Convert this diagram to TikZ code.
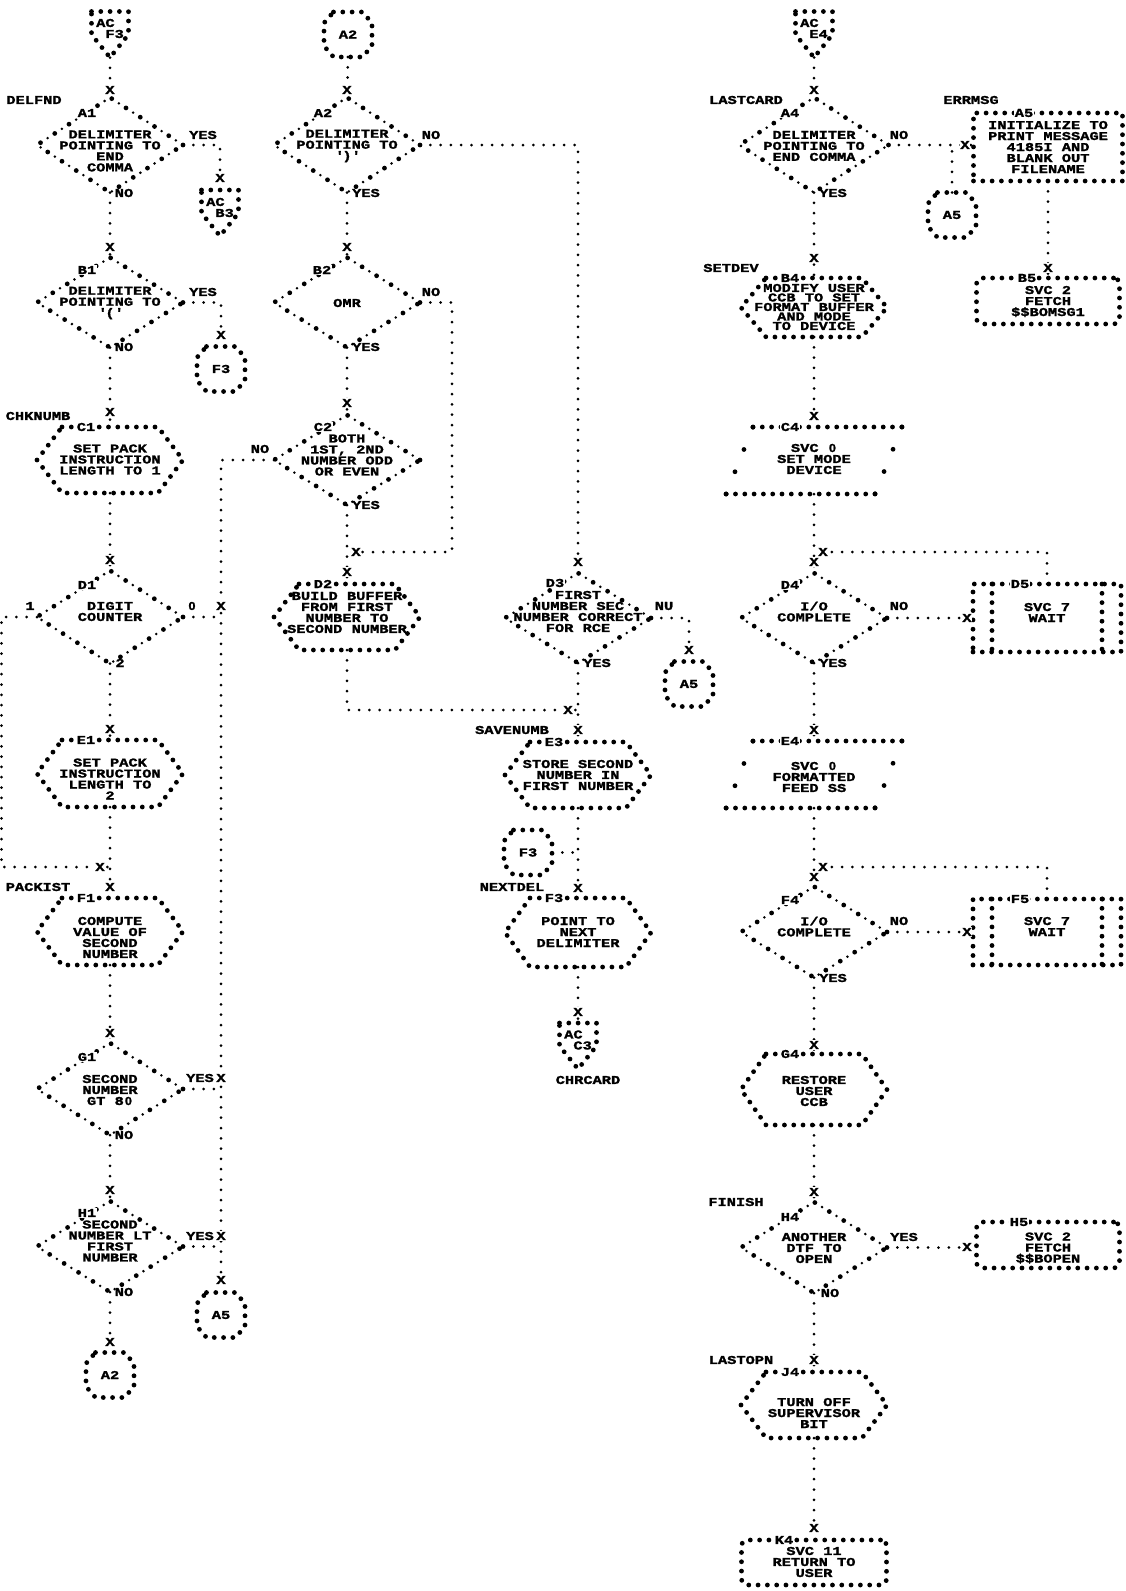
\documentclass[tikz,border=0pt]{standalone}
\usepackage{fontspec}
\newfontfamily\prt[FakeStretch=1.28, BoldFeatures={FakeBold=1.6}]{Liberation Mono}
\newfontfamily\zsans[FakeStretch=1.1, BoldFeatures={FakeBold=1.6}]{Liberation Sans}
\newcommand\Z{\makebox[0.768em]{\zsans\bfseries\fontsize{11.5pt}{11pt}\selectfont 0}}
\usetikzlibrary{shapes.geometric}
\newcommand\hexnode[4]{%
  \node[rectangle, minimum width=146pt, minimum height=#4pt] (#1) at (#2,#3) {};
  \draw[stars] ([xshift=25pt]#1.north west) -- ([xshift=-25pt]#1.north east) -- (#1.east)
    -- ([xshift=-25pt]#1.south east) -- ([xshift=25pt]#1.south west) -- (#1.west) -- cycle;}
\newcommand\ionode[4]{%
  \node[rectangle, minimum width=176pt, minimum height=#4pt] (#1) at (#2,#3) {};
  \draw[stars] ([xshift=27pt]#1.north west) -- (#1.north east);
  \draw[stars] ([xshift=-27pt]#1.south east) -- (#1.south west);
  \draw[sparse] (#1.north east) -- ([xshift=-27pt]#1.south east);
  \draw[sparse] (#1.south west) -- ([xshift=27pt]#1.north west);}
\newcommand\offnode[3]{%
  \node[rectangle, minimum width=37pt, minimum height=46pt] (#1) at (#2,#3) {};
  \draw[stars] (#1.north west) -- (#1.north east) -- (#1.east) -- (#1.south) -- (#1.west) -- cycle;}
\newcommand\onnode[3]{%
  \node[rectangle, minimum width=48pt, minimum height=45pt] (#1) at (#2,#3) {};
  \draw[stars] ([xshift=9.5pt]#1.north west) -- ([xshift=-9.5pt]#1.north east)
    -- ([yshift=-11pt]#1.north east) -- ([yshift=11pt]#1.south east)
    -- ([xshift=-9.5pt]#1.south east) -- ([xshift=9.5pt]#1.south west)
    -- ([yshift=11pt]#1.south west) -- ([yshift=-11pt]#1.north west) -- cycle;}
\newcommand\prednode[5]{%
  \node[box, minimum width=#4pt, minimum height=#5pt] (#1) at (#2,#3) {};
  \draw[stars] ([xshift=19pt]#1.north west) -- ([xshift=19pt]#1.south west);
  \draw[stars] ([xshift=-19pt]#1.north east) -- ([xshift=-19pt]#1.south east);}
\begin{document}
\begin{tikzpicture}[x=1pt,y=-1pt,
 every node/.style={inner sep=0pt, outer sep=0pt},
 txt/.style={font=\prt\bfseries\fontsize{12pt}{11pt}\selectfont, align=center},
 xm/.style={txt, fill=white, inner sep=0.6pt},
 idl/.style={txt, fill=white, inner sep=0.8pt},
 stars/.style={line width=4.8pt, line cap=round, dash pattern=on 0pt off 9.3pt},
 sparse/.style={line width=4.8pt, line cap=round, dash pattern=on 0pt off 24pt},
 box/.style={rectangle, draw, stars},
 rbox/.style={box, rounded corners=6pt},
 dec/.style={diamond, draw, line width=4.8pt, line cap=round, dash pattern=on 0pt off 17pt,
   postaction={draw, line width=2.8pt, dash pattern=on 0pt off 17pt, dash phase=8.5pt},
   minimum width=146pt, minimum height=92pt},
 conn/.style={draw, line width=3pt, line cap=round, dash pattern=on 0pt off 10.3pt}]
\fill[white] (0,0) rectangle (1126,1591);
\useasboundingbox (0,0) rectangle (1126,1591);

% ---------- column 1
\offnode{acf3}{110}{34.5}
\node[dec, minimum height=95pt] (a1) at (110,145) {};
\node[dec, minimum height=90pt] (b1) at (110,302.5) {};
\offnode{acb3}{220}{213}
\onnode{f3c}{221}{369}
\hexnode{c1}{110}{460}{66}
\node[dec, minimum height=93pt] (d1) at (110,617) {};
\hexnode{e1}{110}{773.5}{67}
\hexnode{f1}{110}{931.5}{67}
\node[dec] (g1) at (110,1089) {};
\node[dec, minimum height=91pt] (h1) at (110,1246.5) {};
\onnode{a5c}{221}{1315}
\onnode{a2c}{110}{1375}
% ---------- column 2
\onnode{a2top}{348}{34.5}
\node[dec, minimum height=95pt] (a2) at (347,145) {};
\node[dec, minimum height=90pt] (b2) at (347,302.5) {};
\node[dec, minimum height=90pt] (c2) at (347,460) {};
\hexnode{d2}{347}{617}{66}
% ---------- column 3
\node[dec, minimum height=90pt] (d3) at (578,618) {};
\onnode{a5c3}{689}{684}
\hexnode{e3}{578}{775}{66}
\onnode{f3c2}{528}{852.5}
\hexnode{f3}{578}{932.5}{69}
\offnode{acc3}{578}{1046}
% ---------- column 4 / 5
\offnode{ace4}{814}{34.5}
\node[dec, minimum height=95pt, minimum width=149pt] (a4) at (814,145) {};
\node[box, minimum width=149pt, minimum height=68pt] (a5) at (1048,147) {};
\onnode{a5c4}{952}{215}
\node[rbox, minimum width=143pt, minimum height=46pt] (b5) at (1048,301) {};
\hexnode{b4}{814}{307.5}{59}
\ionode{c4}{814}{460.5}{67}
\node[dec, minimum height=90pt] (d4) at (814,618) {};
\prednode{d5}{1047}{618}{148}{68}
\ionode{e4}{814}{774.5}{67}
\node[dec, minimum height=91pt] (f4) at (814,932) {};
\prednode{f5}{1047}{932}{148}{66}
\hexnode{g4}{814}{1089.5}{71}
\node[dec, minimum height=91pt] (h4) at (814,1247.5) {};
\node[rbox, minimum width=143pt, minimum height=46pt] (h5) at (1048,1245) {};
\hexnode{j4}{814}{1405}{66}
\node[rbox, minimum width=145pt, minimum height=45pt] (k4) at (814,1562.5) {};

% ---------- junction points
\coordinate (jl) at (1.5,867);
\coordinate (jf1) at (110,867);
\coordinate (jb2r) at (452,552);
\coordinate (jb2) at (347,552);
\coordinate (jd3) at (578,710);
\coordinate (jd4) at (814,552);
\coordinate (jf4) at (814,867);

% ---------- connectors
\draw[conn] (acf3) -- (a1);
\draw[conn] (a1) -- (b1);
\draw[conn] (a1.east) -| (acb3);
\draw[conn] (b1) -- (c1);
\draw[conn] (b1.east) -| (f3c);
\draw[conn] (c1) -- (d1);
\draw[conn] (d1) -- (e1);
\draw[conn] (d1.west) -| (jl) -- (jf1);
\draw[conn] (d1.east) -- (d1.east -| a5c);
\draw[conn] (e1) -- (f1);
\draw[conn] (f1) -- (g1);
\draw[conn] (g1) -- (h1);
\draw[conn] (g1.east) -- (g1.east -| a5c);
\draw[conn] (h1.east) -- (h1.east -| a5c);
\draw[conn] (h1) -- (a2c);
\draw[conn] (a2top) -- (a2);
\draw[conn] (a2) -- (b2);
\draw[conn] (a2.east) -| (d3);
\draw[conn] (b2) -- (c2);
\draw[conn] (b2.east) -| (jb2r) -- (jb2);
\draw[conn] (c2) -- (d2);
\draw[conn] (c2.west) -| (a5c);
\draw[conn] (d2) |- (jd3);
\draw[conn] (d3) -- (e3);
\draw[conn] (d3.east) -| (a5c3);
\draw[conn] (e3) -- (f3);
\draw[conn] (f3c2.east) -- (f3c2.east -| f3);
\draw[conn] (f3) -- (acc3);
\draw[conn] (ace4) -- (a4);
\draw[conn] (a4.east) -- (a4.east -| a5.west);
\draw[conn] (a5c4) -- (a5c4 |- a4.east);
\draw[conn] (a5) -- (b5);
\draw[conn] (a4) -- (b4);
\draw[conn] (b4) -- (c4);
\draw[conn] (c4) -- (d4);
\draw[conn] (d4.east) -- (d4.east -| d5.west);
\draw[conn] (d5) |- (jd4);
\draw[conn] (d4) -- (e4);
\draw[conn] (e4) -- (f4);
\draw[conn] (f4.east) -- (f4.east -| f5.west);
\draw[conn] (f5) |- (jf4);
\draw[conn] (f4) -- (g4);
\draw[conn] (g4) -- (h4);
\draw[conn] (h4.east) -- (h4.east -| h5.west);
\draw[conn] (h4) -- (j4);
\draw[conn] (j4) -- (k4);

% ---------- texts column 1
\node[txt] (acf3t) at (110,28.5) {AC\phantom{0}\\\phantom{0}F3};
\node[txt] (lbdelfnd) at (34,100) {DELFND};
\node[txt] (a1t) at (110,151) {DELIMITER\\POINTING TO\\END\\COMMA};
\node[txt] (a1y) at (203,135) {YES};
\node[txt] (a1n) at (124,193) {NO};
\node[txt] (acb3t) at (220,207.5) {AC\phantom{0}\\\phantom{0}B3};
\node[txt] (b1t) at (110,303) {DELIMITER\\POINTING TO\\\textquotesingle(\textquotesingle};
\node[txt] (b1y) at (203,292) {YES};
\node[txt] (b1n) at (124,347) {NO};
\node[txt] (f3ct) at (221,369) {F3};
\node[txt] (lbchk) at (38,416) {CHKNUMB};
\node[txt] (c1t) at (110,459.5) {SET PACK\\INSTRUCTION\\LENGTH TO 1};
\node[txt] (d1t) at (110,611.5) {DIGIT\\COUNTER};
\node[txt] (d1a) at (30,606) {1};
\node[txt] (d1b) at (192,606) {\Z};
\node[txt] (d1c) at (120,663) {2};
\node[txt] (e1t) at (110,779) {SET PACK\\INSTRUCTION\\LENGTH TO\\2};
\node[txt] (lbpack) at (38,887) {PACKIST};
\node[txt] (f1t) at (110,937.5) {COMPUTE\\VALUE OF\\SECOND\\NUMBER};
\node[txt] (g1t) at (110,1090) {SECOND\\NUMBER\\GT 8\Z};
\node[txt] (g1y) at (200,1078) {YES};
\node[txt] (g1n) at (124,1135) {NO};
\node[txt] (h1t) at (110,1241) {SECOND\\NUMBER LT\\FIRST\\NUMBER};
\node[txt] (h1y) at (200,1236) {YES};
\node[txt] (h1n) at (124,1292) {NO};
\node[txt] (a5ct) at (221,1315) {A5};
\node[txt] (a2ct) at (110,1375) {A2};
% ---------- texts column 2
\node[txt] (a2topt) at (348,34.5) {A2};
\node[txt] (a2t) at (347,146) {DELIMITER\\POINTING TO\\\textquotesingle)\textquotesingle};
\node[txt] (a2n) at (431,135) {NO};
\node[txt] (a2y) at (366,193) {YES};
\node[txt] (b2t) at (347,303) {OMR};
\node[txt] (b2n) at (431,292) {NO};
\node[txt] (b2y) at (366,347) {YES};
\node[txt] (c2t) at (347,455) {BOTH\\1ST, 2ND\\NUMBER ODD\\OR EVEN};
\node[txt] (c2n) at (260,449) {NO};
\node[txt] (c2y) at (366,505) {YES};
\node[txt] (d2t) at (347,612.5) {BUILD BUFFER\\FROM FIRST\\NUMBER TO\\SECOND NUMBER};
% ---------- texts column 3
\node[txt] (d3t) at (578,611.5) {FIRST\\NUMBER SEC\\NUMBER CORRECT\\FOR RCE};
\node[txt] (d3n) at (664,606) {NU};
\node[txt] (d3y) at (597,663) {YES};
\node[txt] (a5c3t) at (689,684) {A5};
\node[txt] (lbsave) at (512,730) {SAVENUMB};
\node[txt] (e3t) at (578,775) {STORE SECOND\\NUMBER IN\\FIRST NUMBER};
\node[txt] (f3c2t) at (528,852.5) {F3};
\node[txt] (lbnext) at (512,887) {NEXTDEL};
\node[txt] (f3t) at (578,932) {POINT TO\\NEXT\\DELIMITER};
\node[txt] (acc3t) at (578,1040) {AC\phantom{0}\\\phantom{0}C3};
\node[txt] (lbchr) at (588,1080) {CHRCARD};
% ---------- texts column 4 / 5
\node[txt] (ace4t) at (814,28.5) {AC\phantom{0}\\\phantom{0}E4};
\node[txt] (lblast) at (746,100) {LASTCARD};
\node[txt] (a4t) at (814,146) {DELIMITER\\POINTING TO\\END COMMA};
\node[txt] (a4n) at (899,135) {NO};
\node[txt] (a4y) at (833,193) {YES};
\node[txt] (lberr) at (971,100) {ERRMSG};
\node[txt] (a5t) at (1048,147) {INITIALIZE TO\\PRINT MESSAGE\\4185I AND\\BLANK OUT\\FILENAME};
\node[txt] (a5c4t) at (952,215) {A5};
\node[txt] (b5t) at (1048,301.5) {SVC 2\\FETCH\\\$\$BOMSG1};
\node[txt] (lbsetdev) at (731,268) {SETDEV};
\node[txt, font=\prt\bfseries\fontsize{12pt}{9.5pt}\selectfont] (b4t) at (814,307) {MODIFY USER\\CCB TO SET\\FORMAT BUFFER\\AND MODE\\TO DEVICE};
\node[txt] (c4t) at (814,459) {SVC \Z\\SET MODE\\DEVICE};
\node[txt] (d4t) at (814,611.5) {I/O\\COMPLETE};
\node[txt] (d4n) at (899,606) {NO};
\node[txt] (d4y) at (833,663) {YES};
\node[txt] (d5t) at (1047,612.5) {SVC 7\\WAIT};
\node[txt] (e4t) at (814,777) {SVC \Z\\FORMATTED\\FEED SS};
\node[txt] (f4t) at (814,926.5) {I/O\\COMPLETE};
\node[txt] (f4n) at (899,921) {NO};
\node[txt] (f4y) at (833,978) {YES};
\node[txt] (f5t) at (1047,926.5) {SVC 7\\WAIT};
\node[txt] (g4t) at (814,1091) {RESTORE\\USER\\CCB};
\node[txt] (lbfin) at (736,1202) {FINISH};
\node[txt] (h4t) at (814,1248) {ANOTHER\\DTF TO\\OPEN};
\node[txt] (h4y) at (904,1237) {YES};
\node[txt] (h4n) at (830,1293) {NO};
\node[txt] (h5t) at (1048,1248) {SVC 2\\FETCH\\\$\$BOPEN};
\node[txt] (lbopn) at (741,1360) {LASTOPN};
\node[txt] (j4t) at (814,1413) {TURN OFF\\SUPERVISOR\\BIT};
\node[txt] (k4t) at (814,1562) {SVC 11\\RETURN TO\\USER};

% ---------- block ids
\node[idl] (a1i) at (87,113) {A1};
\node[idl] (b1i) at (87,270) {B1};
\node[idl] (c1i) at (86,427) {C1};
\node[idl] (d1i) at (87,585) {D1};
\node[idl] (e1i) at (86,740) {E1};
\node[idl] (f1i) at (86,898) {F1};
\node[idl] (g1i) at (87,1057) {G1};
\node[idl] (h1i) at (87,1213) {H1};
\node[idl] (a2i) at (323,113) {A2};
\node[idl] (b2i) at (322,270) {B2};
\node[idl] (c2i) at (323,427) {C2};
\node[idl] (d2i) at (323,584) {D2};
\node[idl] (d3i) at (555,583) {D3};
\node[idl] (e3i) at (554,742) {E3};
\node[idl] (f3i) at (554,898) {F3};
\node[idl] (a4i) at (790,113) {A4};
\node[idl] (a5i) at (1024,113) {A5};
\node[idl] (b4i) at (790,278) {B4};
\node[idl] (b5i) at (1027,278) {B5};
\node[idl] (c4i) at (790,427) {C4};
\node[idl] (d4i) at (790,585) {D4};
\node[idl] (d5i) at (1020,584) {D5};
\node[idl] (e4i) at (790,741) {E4};
\node[idl] (f4i) at (790,900) {F4};
\node[idl] (f5i) at (1020,899) {F5};
\node[idl] (g4i) at (790,1054) {G4};
\node[idl] (h4i) at (790,1217) {H4};
\node[idl] (h5i) at (1019,1222) {H5};
\node[idl] (j4i) at (790,1372) {J4};
\node[idl] (k4i) at (784,1540) {K4};

% ---------- arrival marks
\node[xm] (x1) at (110,90) {X};
\node[xm] (x2) at (220,178) {X};
\node[xm] (x3) at (110,247) {X};
\node[xm] (x4) at (221,335) {X};
\node[xm] (x5) at (110,412) {X};
\node[xm] (x6) at (110,560) {X};
\node[xm] (x7) at (221,606) {X};
\node[xm] (x8) at (110,729) {X};
\node[xm] (x9) at (100,867) {X};
\node[xm] (x10) at (110,887) {X};
\node[xm] (x11) at (110,1033) {X};
\node[xm] (x12) at (221,1078) {X};
\node[xm] (x13) at (110,1190) {X};
\node[xm] (x14) at (221,1236) {X};
\node[xm] (x15) at (221,1280) {X};
\node[xm] (x16) at (110,1342) {X};
\node[xm] (x17) at (347,90) {X};
\node[xm] (x18) at (347,247) {X};
\node[xm] (x19) at (347,403) {X};
\node[xm] (x20) at (356,552) {X};
\node[xm] (x21) at (347,572) {X};
\node[xm] (x22) at (578,562) {X};
\node[xm] (x23) at (689,650) {X};
\node[xm] (x24) at (568,710) {X};
\node[xm] (x25) at (578,730) {X};
\node[xm] (x26) at (578,888) {X};
\node[xm] (x27) at (578,1012) {X};
\node[xm] (x28) at (814,90) {X};
\node[xm] (x29) at (965,145) {X};
\node[xm] (x30) at (1048,268) {X};
\node[xm] (x31) at (814,258) {X};
\node[xm] (x32) at (814,416) {X};
\node[xm] (x33) at (823,552) {X};
\node[xm] (x34) at (814,562) {X};
\node[xm] (x35) at (967,618) {X};
\node[xm] (x36) at (814,730) {X};
\node[xm] (x37) at (823,867) {X};
\node[xm] (x38) at (814,877) {X};
\node[xm] (x39) at (967,932) {X};
\node[xm] (x40) at (814,1045) {X};
\node[xm] (x41) at (814,1192) {X};
\node[xm] (x42) at (967,1247) {X};
\node[xm] (x43) at (814,1360) {X};
\node[xm] (x44) at (814,1528) {X};
\end{tikzpicture}
\end{document}
